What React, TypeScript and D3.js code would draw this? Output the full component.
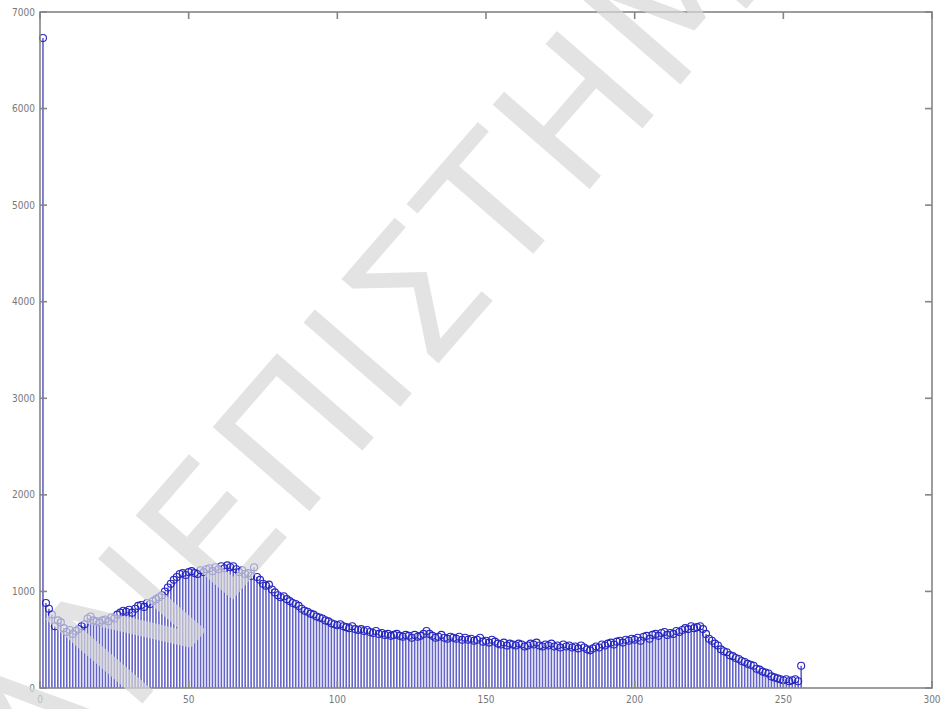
import { useEffect, useRef } from 'react'
import * as d3 from 'd3'

// histogram counts for grey levels 1..256
const counts: number[] = [
  6730, 880, 820, 760, 640, 700, 680, 620, 580, 600,
  560, 590, 610, 640, 660, 720, 740, 700, 690, 680,
  700, 710, 690, 730, 720, 760, 780, 800, 790, 810,
  780, 820, 850, 860, 840, 880, 870, 900, 920, 940,
  960, 1000, 1040, 1080, 1120, 1150, 1180, 1190, 1170, 1200,
  1210, 1190, 1180, 1220, 1200, 1230, 1240, 1210, 1250, 1230,
  1260, 1240, 1270, 1250, 1260, 1230, 1200, 1220, 1180, 1190,
  1160, 1250, 1150, 1120, 1080, 1060, 1070, 1020, 990, 960,
  940, 950, 920, 900, 880, 870, 850, 820, 800, 790,
  770, 760, 740, 730, 720, 700, 690, 670, 660, 650,
  660, 640, 630, 620, 640, 610, 600, 610, 590, 600,
  580, 570, 590, 560, 570, 550, 560, 540, 550, 560,
  540, 530, 550, 540, 520, 550, 530, 540, 560, 590,
  560, 540, 520, 530, 550, 520, 510, 530, 520, 510,
  530, 500, 520, 500, 510, 490, 500, 520, 480, 490,
  470, 500, 480, 460, 450, 470, 440, 460, 450, 440,
  460, 450, 430, 440, 460, 450, 470, 440, 430, 450,
  440, 460, 430, 440, 420, 450, 430, 440, 420, 430,
  410, 440, 420, 400, 390, 410, 430, 420, 450, 440,
  460, 470, 450, 480, 490, 470, 500, 490, 510, 500,
  520, 490, 530, 540, 510, 550, 560, 540, 570, 580,
  550, 570, 560, 590, 580, 600, 620, 610, 640, 620,
  630, 640, 610, 560, 510, 490, 460, 440, 400, 380,
  370, 340, 330, 310, 300, 280, 270, 250, 240, 230,
  200, 190, 170, 160, 150, 120, 110, 100, 90, 80,
  90, 70, 80, 90, 70, 230
]

const xTicks = [0, 50, 100, 150, 200, 250, 300]
const yTicks = [0, 1000, 2000, 3000, 4000, 5000, 6000, 7000]
const watermark = 'ΑΝΕΠΙΣΤΗΜ'

const W = 941
const H = 709

export default function App() {
  const svgRef = useRef<SVGSVGElement>(null)

  useEffect(() => {
    if (!svgRef.current) return
    const svg = d3.select(svgRef.current)
    svg.selectAll('*').remove()

    const left = 40, right = 932, top = 12, bottom = 688

    const x = d3.scaleLinear().domain([0, 300]).range([left, right])
    const y = d3.scaleLinear().domain([0, 7000]).range([bottom, top])

    svg.append('rect').attr('width', W).attr('height', H).attr('fill', '#fff')

    // stems
    const data = counts.map((v, i) => ({ i: i + 1, v }))
    svg.append('g')
      .selectAll('line')
      .data(data)
      .enter()
      .append('line')
      .attr('x1', d => x(d.i))
      .attr('x2', d => x(d.i))
      .attr('y1', y(0))
      .attr('y2', d => y(d.v))
      .attr('stroke', '#6464c8')
      .attr('stroke-width', 1.6)

    svg.append('g')
      .selectAll('circle')
      .data(data)
      .enter()
      .append('circle')
      .attr('cx', d => x(d.i))
      .attr('cy', d => y(d.v))
      .attr('r', 3.5)
      .attr('fill', 'none')
      .attr('stroke', '#2626c0')
      .attr('stroke-width', 1.1)

    // box + ticks
    const axisColor = '#858585'
    const tickLen = 7
    const g = svg.append('g').attr('stroke', axisColor).attr('stroke-width', 1.6)
    g.append('rect')
      .attr('x', left).attr('y', top)
      .attr('width', right - left).attr('height', bottom - top)
      .attr('fill', 'none')
    xTicks.forEach(t => {
      g.append('line').attr('x1', x(t)).attr('x2', x(t)).attr('y1', bottom).attr('y2', bottom - tickLen)
      g.append('line').attr('x1', x(t)).attr('x2', x(t)).attr('y1', top).attr('y2', top + tickLen)
    })
    yTicks.forEach(t => {
      g.append('line').attr('x1', left).attr('x2', left + tickLen).attr('y1', y(t)).attr('y2', y(t))
      g.append('line').attr('x1', right).attr('x2', right - tickLen).attr('y1', y(t)).attr('y2', y(t))
    })

    const font = '"Liberation Sans Narrow", "DejaVu Sans Condensed", "Liberation Sans", sans-serif'
    svg.append('g')
      .selectAll('text')
      .data(yTicks)
      .enter()
      .append('text')
      .attr('x', left - 5)
      .attr('y', d => y(d))
      .attr('dy', '0.35em')
      .attr('text-anchor', 'end')
      .attr('font-family', font)
      .attr('font-size', 10)
      .attr('fill', '#777')
      .text(d => String(d))

    svg.append('g')
      .selectAll('text')
      .data(xTicks)
      .enter()
      .append('text')
      .attr('x', d => x(d))
      .attr('y', bottom + 15)
      .attr('text-anchor', 'middle')
      .attr('font-family', font)
      .attr('font-size', 10)
      .attr('fill', '#777')
      .text(d => String(d))

    // watermark over the plot
    svg.append('text')
      .attr('transform', 'translate(48,812) rotate(-49)')
      .attr('font-family', '"DejaVu Sans", sans-serif')
      .attr('font-size', 176)
      .attr('letter-spacing', 6)
      .attr('fill', '#d8d8d8')
      .attr('opacity', 0.7)
      .text(watermark)
  }, [])

  return (
    <svg
      ref={svgRef}
      width={W}
      height={H}
      style={{ position: 'absolute', left: 0, top: 0 }}
    />
  )
}
